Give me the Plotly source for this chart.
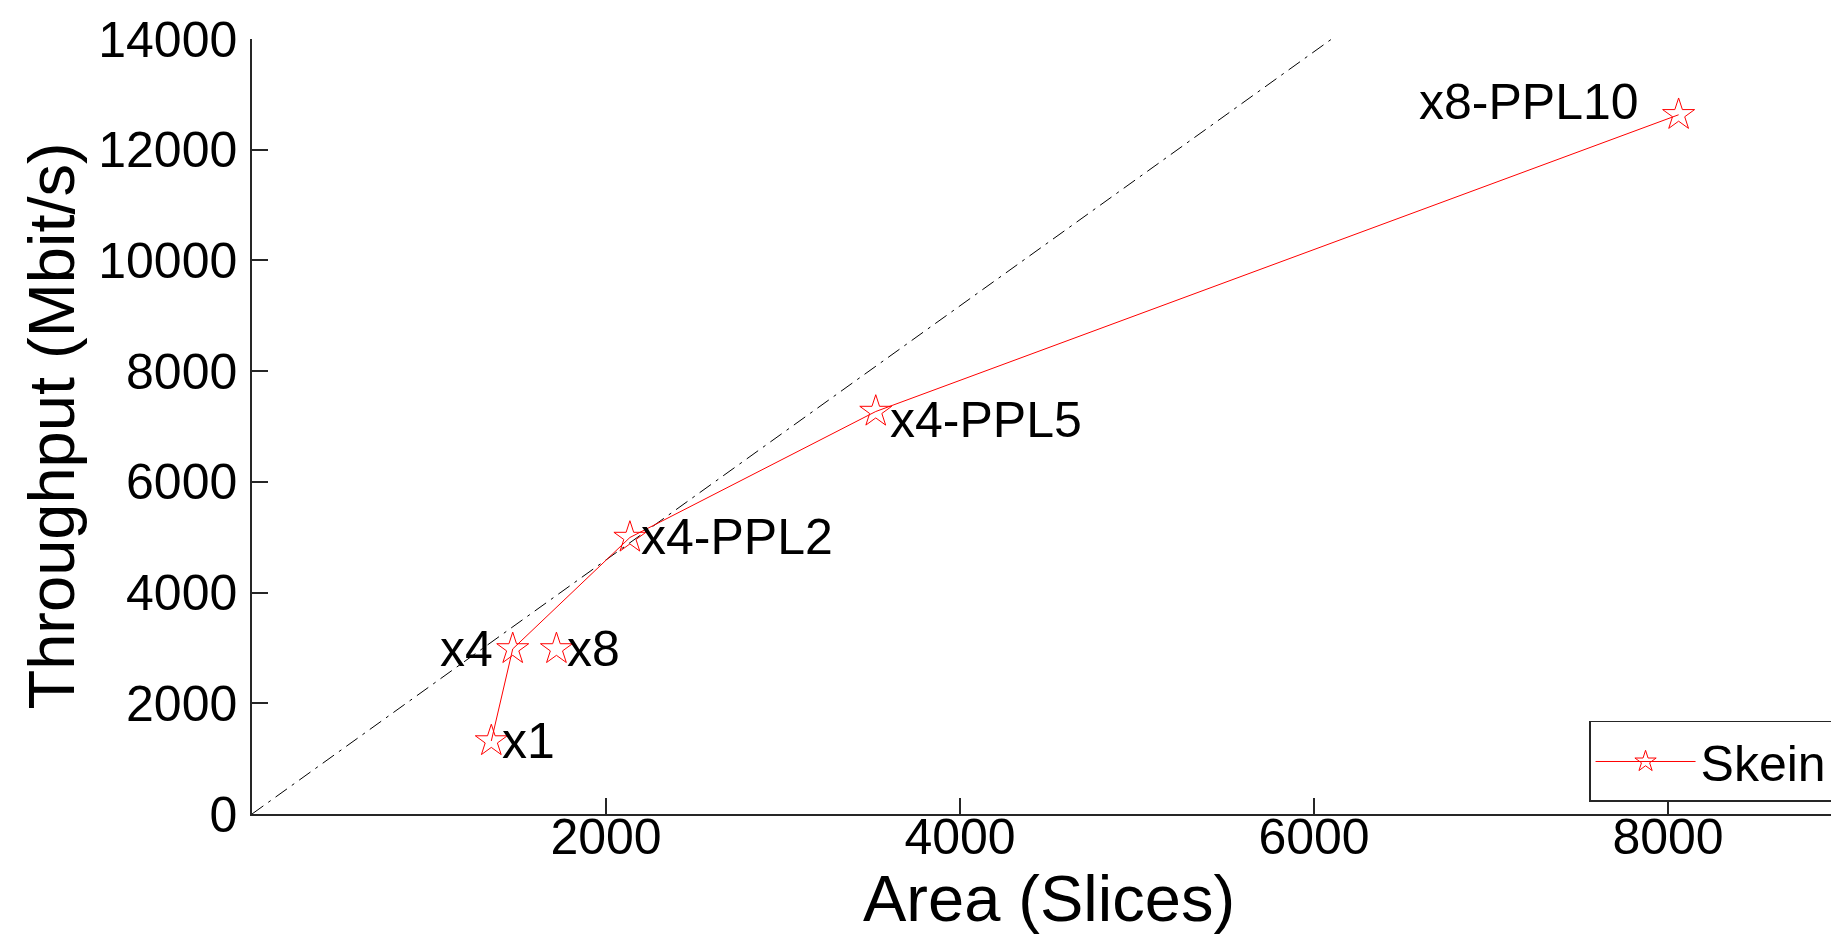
import plotly.graph_objects as go

# Data
labels = ["x1", "x4", "x4-PPL2", "x4-PPL5", "x8-PPL10"]
area = [1352, 1473, 2135, 3524, 8060]
throughput = [1319, 2982, 4995, 7271, 12631]

extra_label = ["x8"]
extra_area = [1720]
extra_throughput = [2982]

ref_x = [0, 6100]
ref_y = [0, 14000]

x_ticks = [2000, 4000, 6000, 8000]
y_ticks = [0, 2000, 4000, 6000, 8000, 10000, 12000, 14000]

x_title = "Area (Slices)"
y_title = "Throughput (Mbit/s)"

FONT = "Liberation Sans, Arial, sans-serif"
RED = "#ff0000"

fig = go.Figure()

fig.add_trace(go.Scatter(
    x=ref_x, y=ref_y, mode="lines",
    line=dict(color="#000000", width=1, dash="14px,6px,3px,6px"),
    showlegend=False, hoverinfo="skip"))

fig.add_trace(go.Scatter(
    x=area, y=throughput, mode="lines+markers", name="Skein",
    line=dict(color=RED, width=1),
    marker=dict(symbol="star-open", size=24, color=RED, line=dict(width=1, color=RED))))

fig.add_trace(go.Scatter(
    x=extra_area, y=extra_throughput, mode="markers", name="Skein",
    marker=dict(symbol="star-open", size=24, color=RED, line=dict(width=1, color=RED)),
    showlegend=False))

# label placement (side, xshift, yshift)
place = {
    "x1": ("left", 9, 0),
    "x4": ("right", -18, 0),
    "x4-PPL2": ("left", 9, 0),
    "x4-PPL5": ("left", 12, -8),
    "x8-PPL10": ("right", -38, 13),
    "x8": ("left", 9, 0),
}

all_labels = labels + extra_label
all_x = area + extra_area
all_y = throughput + extra_throughput
for lab, xv, yv in zip(all_labels, all_x, all_y):
    anchor, xs, ys = place[lab]
    fig.add_annotation(x=xv, y=yv, text=lab, showarrow=False,
                       xanchor=anchor, yanchor="middle", xshift=xs, yshift=ys,
                       font=dict(family=FONT, size=50, color="#000000"))

# axis titles
fig.add_annotation(x=0.5, y=0, xref="paper", yref="paper", text=x_title, showarrow=False,
                   xanchor="center", yanchor="middle", yshift=-84,
                   font=dict(family=FONT, size=65, color="#000000"))
fig.add_annotation(x=0, y=0.5, xref="paper", yref="paper", text=y_title, showarrow=False,
                   textangle=-90, xanchor="center", yanchor="middle", xshift=-201,
                   font=dict(family=FONT, size=65, color="#000000"))

axis_common = dict(
    showgrid=False, zeroline=False, showline=True, linecolor="#262626", linewidth=1.5,
    ticks="inside", ticklen=16, tickwidth=1.5, tickcolor="#262626",
    tickfont=dict(family=FONT, size=50, color="#000000"),
    mirror=False, automargin=False,
)

fig.update_xaxes(range=[0, 9000], tickvals=x_ticks, ticktext=[str(v) for v in x_ticks],
                 ticklabelstandoff=-22, **axis_common)
fig.update_yaxes(range=[0, 14000], tickvals=y_ticks, ticktext=[str(v) for v in y_ticks],
                 ticklabelstandoff=3, **axis_common)

fig.update_layout(
    width=1839, height=939,
    margin=dict(l=244, r=2, t=31, b=133),
    plot_bgcolor="#ffffff", paper_bgcolor="#ffffff",
    showlegend=True,
    legend=dict(x=0.9925, y=0.0155, xanchor="right", yanchor="bottom",
                bordercolor="#262626", borderwidth=1.5, bgcolor="#ffffff",
                font=dict(family=FONT, size=50, color="#000000"),
                itemwidth=100, tracegroupgap=0),
)

fig.write_html("out.html")
